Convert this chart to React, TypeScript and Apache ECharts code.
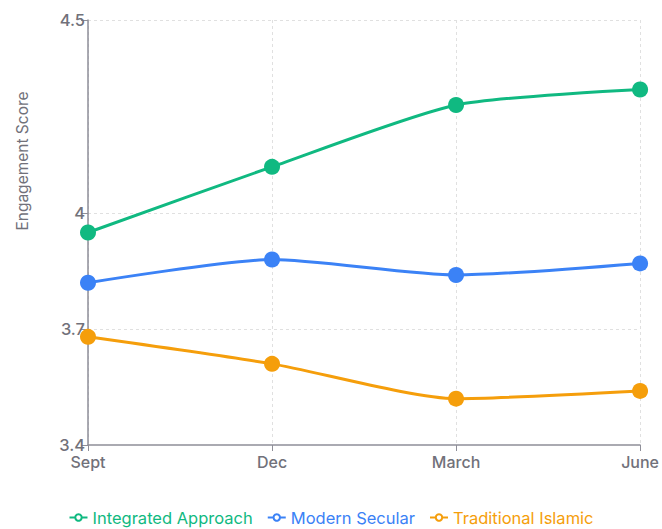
import React, { useEffect, useRef } from "react";
import * as echarts from "echarts";

const categories = ["Sept", "Dec", "March", "June"];
const integrated = [3.95, 4.12, 4.28, 4.32];
const modernSecular = [3.82, 3.88, 3.84, 3.87];
const traditionalIslamic = [3.68, 3.61, 3.52, 3.54];
const yTicks = [3.4, 3.7, 4, 4.5];
const gridLines = [3.7, 4, 4.5];

const GREEN = "#10b981";
const BLUE = "#3b82f6";
const ORANGE = "#f59e0b";
const FONT = "Inter, 'Noto Sans', sans-serif";
const LABEL = "#71717a";
const AXIS = "#8e8e98";

export default function App() {
  const ref = useRef<HTMLDivElement>(null);
  useEffect(() => {
    document.body.style.margin = "0";
    if (!ref.current) return;
    const chart = echarts.init(ref.current, undefined, { renderer: "svg" });
    const mkSeries = (name: string, data: number[], color: string, extra: any = {}) => ({
      name,
      type: "line",
      data,
      smooth: 0.22,
      symbol: "circle",
      symbolSize: 16,
      itemStyle: { color },
      lineStyle: { color, width: 3 },
      ...extra,
    });
    const legendItem = (name: string, color: string) => ({
      name,
      textStyle: { color },
      itemStyle: { color: "#fff", borderColor: color, borderWidth: 2 },
      lineStyle: { color, width: 2, type: "solid" },
    });
    chart.setOption({
      animation: false,
      textStyle: { fontFamily: FONT },
      grid: { left: 88, right: 21, top: 20, bottom: 84, containLabel: false },
      xAxis: {
        type: "category",
        data: categories,
        boundaryGap: false,
        axisLine: { lineStyle: { color: AXIS, width: 1.5 } },
        axisTick: { show: true, alignWithLabel: true, length: 6, lineStyle: { color: AXIS } },
        axisLabel: { color: LABEL, fontSize: 16, fontWeight: 500, margin: 9, fontFamily: FONT },
        splitLine: { show: true, lineStyle: { color: "#e0e0e0", type: [3, 3] } },
      },
      yAxis: {
        type: "value",
        min: 3.4,
        max: 4.5,
        axisLine: { show: true, lineStyle: { color: AXIS, width: 1.5 } },
        axisTick: { show: true, length: 7, lineStyle: { color: AXIS }, customValues: yTicks },
        axisLabel: {
          color: LABEL,
          fontSize: 16.5,
          fontWeight: 500,
          margin: 3,
          fontFamily: FONT,
          customValues: yTicks,
          formatter: (v: number) => String(v),
        },
        splitLine: { show: false },
      },
      legend: {
        top: 504,
        left: "center",
        itemWidth: 18,
        itemHeight: 8,
        itemGap: 14,
        textStyle: { fontSize: 16.5, fontFamily: FONT },
        data: [
          legendItem("Integrated Approach", GREEN),
          legendItem("Modern Secular", BLUE),
          legendItem("Traditional Islamic", ORANGE),
        ],
      },
      graphic: [
        {
          type: "text",
          x: 14,
          y: 161,
          rotation: Math.PI / 2,
          style: {
            text: "Engagement Score",
            fill: LABEL,
            fontSize: 15.5,
            fontFamily: FONT,
            align: "center",
            verticalAlign: "top",
          },
        },
      ],
      series: [
        mkSeries("Integrated Approach", integrated, GREEN, {
          markLine: {
            silent: true,
            symbol: "none",
            label: { show: false },
            lineStyle: { color: "#e0e0e0", type: [3, 3], width: 1 },
            data: gridLines.map((v) => ({ yAxis: v })),
            z: 0,
          },
        }),
        mkSeries("Modern Secular", modernSecular, BLUE),
        mkSeries("Traditional Islamic", traditionalIslamic, ORANGE),
      ],
    });
    return () => chart.dispose();
  }, []);
  return <div ref={ref} style={{ width: 662, height: 529 }} />;
}
